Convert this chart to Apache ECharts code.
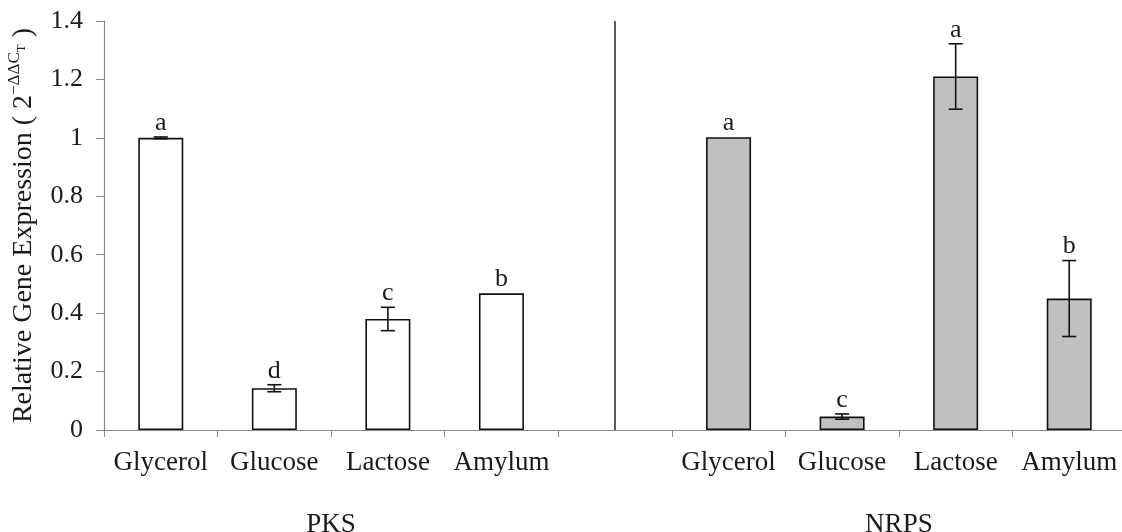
<!DOCTYPE html>
<html>
<head>
<meta charset="utf-8">
<script src="https://cdn.jsdelivr.net/npm/echarts@6/dist/echarts.min.js"></script>
<style>html,body{margin:0;padding:0;background:#fff}#c{width:1122px;height:532px}</style>
</head>
<body>
<div id="c"></div>
<script>
var categories = ['Glycerol','Glucose','Lactose','Amylum','','Glycerol','Glucose','Lactose','Amylum'];
var groups = ['PKS','NRPS'];
var pksValues = [1.0, 0.143, 0.38, 0.468, '-', '-', '-', '-', '-'];
var pksErrors = [0.003, 0.012, 0.04, 0, 0, 0, 0, 0, 0];
var nrpsValues = ['-', '-', '-', '-', '-', 1.002, 0.046, 1.21, 0.45];
var nrpsErrors = [0, 0, 0, 0, 0, 0, 0.009, 0.112, 0.13];
var letters = ['a','d','c','b','','a','c','a','b'];
var yTicks = { min: 0, max: 1.4, interval: 0.2 };

var FONT = '"Liberation Serif", "Times New Roman", serif';
var TXT = '#1a1a1a';

var errData = [];
for (var i = 0; i < categories.length; i++) {
  var v = pksValues[i] !== '-' ? pksValues[i] : nrpsValues[i];
  var e = pksValues[i] !== '-' ? pksErrors[i] : nrpsErrors[i];
  if (v === '-') continue;
  errData.push([i, v, e, letters[i]]);
}

var chart = echarts.init(document.getElementById('c'), null, {renderer: 'canvas'});
chart.setOption({
  animation: false,
  backgroundColor: '#fff',
  grid: { left: 104, top: 21, bottom: 102, width: 1022, containLabel: false, outerBoundsMode: 'none' },
  xAxis: [{
    type: 'category',
    data: categories,
    axisLine: { lineStyle: { color: '#8a8a8a', width: 1.2 } },
    axisTick: { show: true, length: 7, lineStyle: { color: '#8a8a8a' } },
    axisLabel: { color: TXT, fontFamily: FONT, fontSize: 27, margin: 19, interval: 0 }
  }, {
    type: 'value',
    position: 'bottom',
    min: 0, max: 9, interval: 1,
    offset: 81,
    axisLine: { show: false },
    axisTick: { show: false },
    splitLine: { show: false },
    axisLabel: {
      color: TXT, fontFamily: FONT, fontSize: 27, margin: 0,
      formatter: function (val) {
        if (Math.abs(val - 2) < 1e-6) return groups[0];
        if (Math.abs(val - 7) < 1e-6) return groups[1];
        return '';
      }
    }
  }],
  yAxis: {
    type: 'value',
    min: yTicks.min, max: yTicks.max, interval: yTicks.interval,
    axisLine: { show: true, lineStyle: { color: '#8a8a8a', width: 1.2 } },
    axisTick: { show: true, length: 8, lineStyle: { color: '#8a8a8a' } },
    splitLine: { show: false },
    axisLabel: { color: TXT, fontFamily: FONT, fontSize: 26, margin: 21 },
    name: '{b|Relative Gene Expression ( 2}{sup|−ΔΔC}{sub|T}{b| )}',
    nameLocation: 'middle',
    nameGap: 66,
    nameRotate: 90,
    nameTextStyle: {
      rich: {
        b: { fontFamily: FONT, fontSize: 28, color: TXT, lineHeight: 32, verticalAlign: 'bottom' },
        sup: { fontFamily: FONT, fontSize: 17, color: TXT, lineHeight: 32, verticalAlign: 'top' },
        sub: { fontFamily: FONT, fontSize: 13, color: TXT, lineHeight: 32, verticalAlign: 'middle' }
      }
    }
  },
  series: [{
    name: groups[0],
    type: 'bar',
    data: pksValues,
    barWidth: 45,
    barGap: '-100%',
    itemStyle: { color: '#ffffff', borderColor: '#111', borderWidth: 1.6 },
    markLine: {
      symbol: 'none', silent: true, label: { show: false },
      lineStyle: { color: '#333', width: 1.6, type: 'solid' },
      data: [{ xAxis: 4 }]
    }
  }, {
    name: groups[1],
    type: 'bar',
    data: nrpsValues,
    barWidth: 45,
    barGap: '-100%',
    itemStyle: { color: '#c0c0c0', borderColor: '#111', borderWidth: 1.6 }
  }, {
    type: 'custom',
    data: errData,
    z: 10,
    renderItem: function (params, api) {
      var x = api.value(0), v = api.value(1), e = api.value(2);
      var letter = errData[params.dataIndex][3];
      var hi = api.coord([x, v + e]);
      var lo = api.coord([x, v - e]);
      var cw = 7;
      var children = [];
      if (e > 0) {
        var st = { stroke: '#111', lineWidth: 1.6 };
        children.push({ type: 'line', shape: { x1: hi[0], y1: hi[1], x2: lo[0], y2: lo[1] }, style: st });
        children.push({ type: 'line', shape: { x1: hi[0] - cw, y1: hi[1], x2: hi[0] + cw, y2: hi[1] }, style: st });
        children.push({ type: 'line', shape: { x1: lo[0] - cw, y1: lo[1], x2: lo[0] + cw, y2: lo[1] }, style: st });
      }
      children.push({
        type: 'text',
        style: {
          text: letter, x: hi[0], y: hi[1] - 1,
          align: 'center', verticalAlign: 'bottom',
          font: '26px ' + FONT, fill: TXT
        }
      });
      return { type: 'group', children: children };
    }
  }]
});
</script>
</body>
</html>
